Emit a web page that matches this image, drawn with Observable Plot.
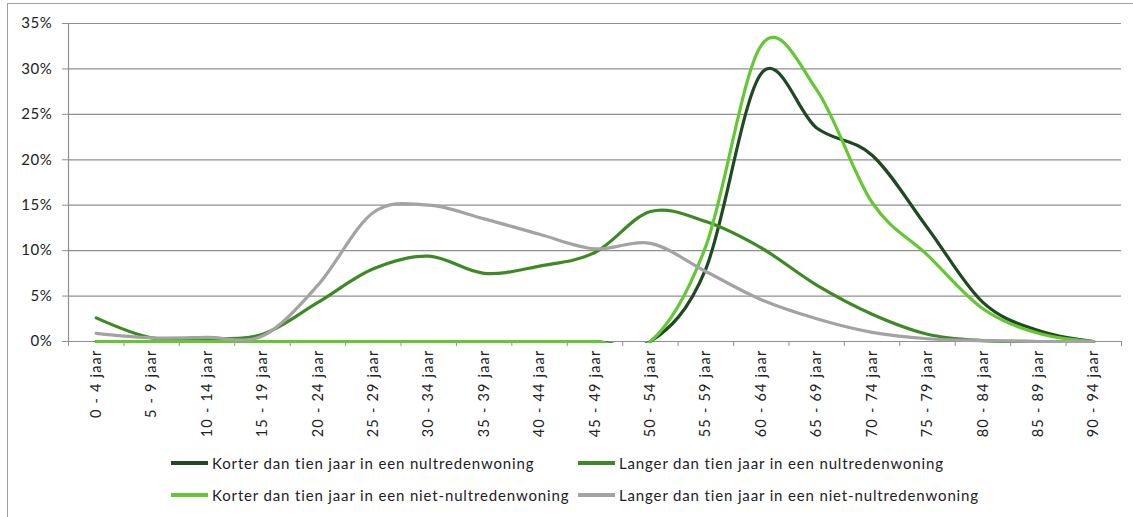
<!DOCTYPE html>
<html>
<head>
<meta charset="utf-8">
<script src="https://cdn.jsdelivr.net/npm/d3@7"></script>
<script src="https://cdn.jsdelivr.net/npm/@observablehq/plot@0.6"></script>
<style>
  html, body { margin: 0; padding: 0; background: #fff; }
  #wrap { position: relative; width: 1133px; height: 517px; overflow: hidden; font-family: Lato, "Open Sans", sans-serif; color: #222; }
  #frame { position: absolute; left: 7px; top: 3px; width: 1140px; height: 540px; border: 1px solid #a0a0a0; box-sizing: border-box; }
  #chart { position: absolute; left: 0; top: 0; }
  .leg { position: absolute; font-size: 15px; letter-spacing: 0.85px; line-height: 18px; white-space: nowrap; }
  .sw { position: absolute; height: 4px; width: 37px; }
  g[aria-label="x-axis tick label"] text { letter-spacing: 1.2px; }
  g[aria-label="y-axis tick label"] text { letter-spacing: 0.6px; }
</style>
</head>
<body>
<div id="wrap">
  <div id="frame"></div>
  <div id="chart"></div>
  <div id="legend"></div>
</div>
<script>
const categories = ["0 - 4 jaar","5 - 9 jaar","10 - 14 jaar","15 - 19 jaar","20 - 24 jaar","25 - 29 jaar","30 - 34 jaar","35 - 39 jaar","40 - 44 jaar","45 - 49 jaar","50 - 54 jaar","55 - 59 jaar","60 - 64 jaar","65 - 69 jaar","70 - 74 jaar","75 - 79 jaar","80 - 84 jaar","85 - 89 jaar","90 - 94 jaar"];

const korterNultreden    = [0,0,0,0,0,0,0,0,0,0,0, 8.0,29.5,23.5,20.5,12.5,4.3,1.2,0];
const langerNultreden    = [2.6,0.4,0.3,0.8,4.3,8.0,9.4,7.5,8.3,9.8,14.3,13.2,10.3,6.2,3.0,0.8,0.1,0,0];
const korterNietNultreden= [0,0,0,0,0,0,0,0,0,0,0,10.5,32.6,27.7,15.3,9.5,3.6,0.9,0];
const langerNietNultreden= [0.9,0.4,0.45,0.6,6.2,14.2,15.0,13.5,11.8,10.2,10.8,7.7,4.6,2.5,1.0,0.3,0.1,0,0];

const seriesNames = [
  "Korter dan tien jaar in een nultredenwoning",
  "Langer dan tien jaar in een nultredenwoning",
  "Korter dan tien jaar in een niet-nultredenwoning",
  "Langer dan tien jaar in een niet-nultredenwoning"
];
const seriesValues = [korterNultreden, langerNultreden, korterNietNultreden, langerNietNultreden];
const seriesColors = ["#1f4a21", "#3d8a24", "#63c832", "#a3a3a3"];
const yTicks = [0,5,10,15,20,25,30,35];

const rows = [];
seriesValues.forEach((vals, si) => vals.forEach((v, i) => rows.push({i, v, s: seriesNames[si]})));
const centers = categories.map((_, i) => i);
const boundaries = d3.range(categories.length + 1).map(i => i - 0.5);
const gridColor = "#8f8f8f";

const W = 1133, H = 440, ML = 68, MR = 12, MT = 23, MB = 99;

const svg = Plot.plot({
  width: W, height: H,
  marginLeft: ML, marginRight: MR, marginTop: MT, marginBottom: MB,
  x: {type: "linear", domain: [-0.5, categories.length - 0.5], label: null},
  y: {domain: [0, 35], label: null},
  color: {domain: seriesNames, range: seriesColors},
  style: {fontFamily: "Lato, 'Open Sans', sans-serif", color: "#222", background: "transparent", overflow: "visible"},
  marks: [
    Plot.gridY({ticks: yTicks, stroke: gridColor, strokeOpacity: 1, strokeWidth: 1.2}),
    Plot.axisY({ticks: yTicks, tickFormat: d => d + "%", tickSize: 6, tickPadding: 10, fontSize: 15, stroke: gridColor, strokeOpacity: 1, label: null}),
    Plot.axisX({ticks: boundaries, tickFormat: () => "", tickSize: 5, stroke: gridColor, strokeOpacity: 1, label: null}),
    Plot.axisX({ticks: centers, tickFormat: i => categories[i], tickRotate: -90, tickSize: 0, tickPadding: 8, fontSize: 14.5, label: null}),
    Plot.ruleX([-0.5], {stroke: gridColor, strokeWidth: 1.2}),
    Plot.ruleY([0], {stroke: gridColor, strokeWidth: 1.2}),
    Plot.line(rows, {x: "i", y: "v", z: "s", stroke: "s", curve: "cardinal", strokeWidth: 3.2, strokeLinejoin: "round"})
  ]
});
document.getElementById("chart").appendChild(svg);

// clip the smoothed lines just under the zero axis (as the original chart does)
const ns = "http://www.w3.org/2000/svg";
const defs = document.createElementNS(ns, "defs");
const cp = document.createElementNS(ns, "clipPath");
cp.setAttribute("id", "lineclip");
const r = document.createElementNS(ns, "rect");
r.setAttribute("x", ML - 2); r.setAttribute("y", 0);
r.setAttribute("width", W - ML - MR + 4); r.setAttribute("height", H - MB + 1.6);
cp.appendChild(r); defs.appendChild(cp); svg.insertBefore(defs, svg.firstChild);
svg.querySelectorAll('g[aria-label="line"]').forEach(g => g.setAttribute("clip-path", "url(#lineclip)"));

// legend
const legend = document.getElementById("legend");
const legPos = [[171, 463], [578, 463], [171, 495], [578, 495]];
seriesNames.forEach((name, k) => {
  const [x, y] = legPos[k];
  const sw = document.createElement("div");
  sw.className = "sw";
  sw.style.left = x + "px"; sw.style.top = (y - 2) + "px"; sw.style.background = seriesColors[k];
  legend.appendChild(sw);
  const t = document.createElement("div");
  t.className = "leg";
  t.style.left = (x + 41) + "px"; t.style.top = (y - 9) + "px";
  t.textContent = name;
  legend.appendChild(t);
});
</script>
</body>
</html>
